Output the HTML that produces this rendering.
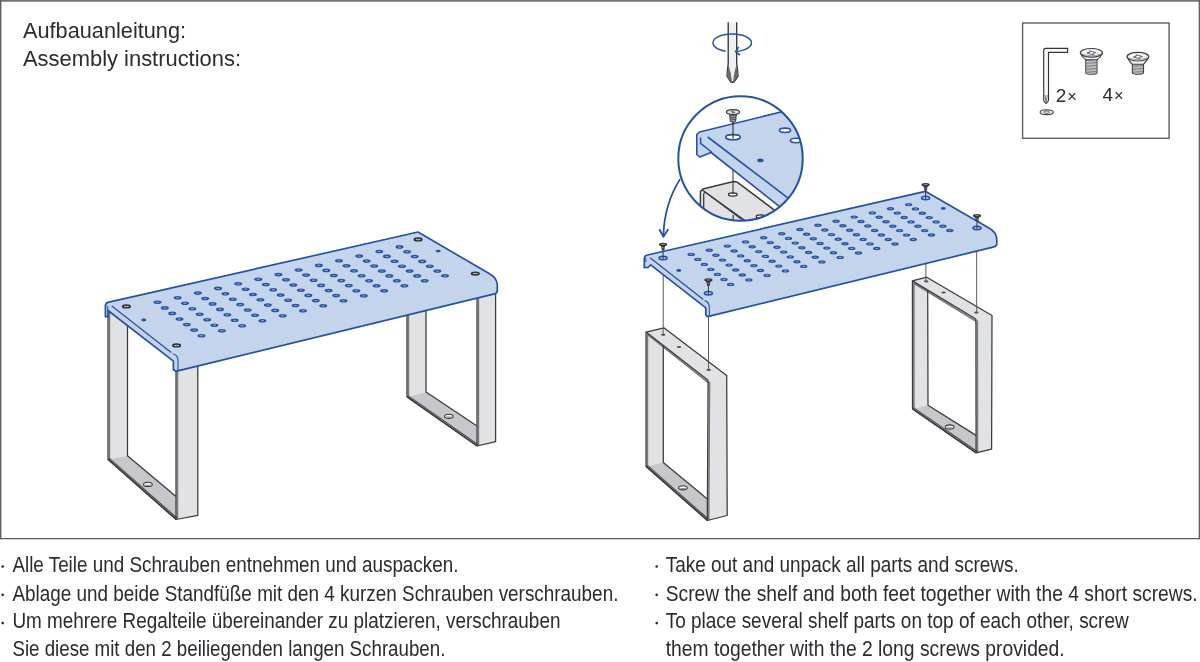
<!DOCTYPE html>
<html><head><meta charset="utf-8"><title>Assembly instructions</title>
<style>html,body{margin:0;padding:0;background:#fff;width:1200px;height:662px;overflow:hidden;position:relative}</style>
</head><body>
<svg width="1200" height="662" viewBox="0 0 1200 662" style="position:absolute;left:0;top:0;will-change:transform">
<rect x="0" y="0" width="1200" height="662" fill="#fff"/><g stroke-width="1.4"><line x1="0" y1="0.85" x2="1200" y2="0.85" stroke="#727278" stroke-width="1.7"/><line x1="0.7" y1="0" x2="0.7" y2="539.3" stroke="#5f5f65"/><line x1="1199.35" y1="0" x2="1199.35" y2="539.3" stroke="#5f5f65" stroke-width="1.3"/><line x1="0" y1="538.6" x2="1200" y2="538.6" stroke="#5f5f65" stroke-width="1.3"/></g>
<polygon points="108.0,305.0 127.5,300.0 127.5,455.7 108.0,459.5" fill="#e1e2e4"/><polygon points="108.0,459.5 127.5,455.7 176.0,496.5 176.0,519.5" fill="#c6c7ca"/><polygon points="176.0,365.0 197.8,360.0 197.8,515.4 176.0,519.5" fill="#e1e2e4"/><line x1="109.45" y1="306.5" x2="109.45" y2="459.0" stroke="#77777c" stroke-width="1.5"/><line x1="177.45" y1="366.5" x2="177.45" y2="518.5" stroke="#77777c" stroke-width="1.5"/><line x1="108.60" y1="458.83" x2="176.60" y2="518.83" stroke="#3a3a3f" stroke-width="2.6"/><line x1="109.40" y1="458.83" x2="176.60" y2="518.83" stroke="#a9a9ae" stroke-width="0.6"/><polyline points="108.0,305.0 108.0,459.5 176.0,519.5 197.8,515.4 197.8,360.0" fill="none" stroke="#3a3a3f" stroke-width="1.25" stroke-linejoin="round"/><polyline points="127.5,300.0 127.5,455.7 176.0,496.5" fill="none" stroke="#3a3a3f" stroke-width="1.25" stroke-linejoin="round"/><line x1="176" y1="365" x2="176" y2="519.5" stroke="#3a3a3f" stroke-width="1.25"/><ellipse cx="147.9" cy="484.4" rx="4.3" ry="2.1" fill="#f4f4f5" stroke="#3a3a3f" stroke-width="1.1"/><path d="M144.6,484.7 Q147.9,487.1 151.20000000000002,484.7" fill="#8a8a90" stroke="none"/><polygon points="407.0,295.0 426.0,290.0 426.0,392.0 407.0,397.0" fill="#e1e2e4"/><polygon points="407.0,397.0 426.0,392.0 477.0,426.0 477.0,446.0" fill="#c6c7ca"/><polygon points="477.0,294.0 495.6,290.0 495.6,441.7 477.0,446.0" fill="#e1e2e4"/><line x1="408.45" y1="296.5" x2="408.45" y2="396.5" stroke="#77777c" stroke-width="1.5"/><line x1="478.45" y1="295.5" x2="478.45" y2="445" stroke="#77777c" stroke-width="1.5"/><line x1="407.52" y1="396.26" x2="477.52" y2="445.26" stroke="#3a3a3f" stroke-width="2.6"/><line x1="408.32" y1="396.26" x2="477.52" y2="445.26" stroke="#a9a9ae" stroke-width="0.6"/><polyline points="407.0,295.0 407.0,397.0 477.0,446.0 495.6,441.7 495.6,290.0" fill="none" stroke="#3a3a3f" stroke-width="1.25" stroke-linejoin="round"/><polyline points="426.0,290.0 426.0,392.0 477.0,426.0" fill="none" stroke="#3a3a3f" stroke-width="1.25" stroke-linejoin="round"/><line x1="477" y1="294" x2="477" y2="446" stroke="#3a3a3f" stroke-width="1.25"/><ellipse cx="448.8" cy="416.3" rx="4.3" ry="2.1" fill="#f4f4f5" stroke="#3a3a3f" stroke-width="1.1"/><path d="M445.5,416.6 Q448.8,419.00000000000006 452.1,416.6" fill="#8a8a90" stroke="none"/><path d="M105.4,316.6 L105.4,306 Q105.4,302.8 108.8,302.2 L418,232 L489.5,273.8 Q497.3,278.3 497.3,285 L497.3,290.8 Q497.3,293.2 494.5,293.8 L175.7,371.4 L173.4,369.5 L173.4,361.1 L108,310.5 L108,316.6 Z" fill="#c4d4ed" stroke="#2552a3" stroke-width="1.7" stroke-linejoin="round"/><line x1="111.8" y1="306" x2="171.2" y2="352.4" stroke="#2552a3" stroke-width="1.3"/><path d="M172.8,353.8 Q177.6,355 178,360 L178,371" fill="none" stroke="#2552a3" stroke-width="1.1"/><line x1="107.8" y1="306" x2="107.8" y2="312" stroke="#2552a3" stroke-width="1"/><g fill="#2552a3"><ellipse cx="157.5" cy="302.3" rx="4.0" ry="1.8"/><ellipse cx="164.8" cy="307.9" rx="4.0" ry="1.8"/><ellipse cx="172.2" cy="313.4" rx="4.0" ry="1.8"/><ellipse cx="179.5" cy="319.0" rx="4.0" ry="1.8"/><ellipse cx="186.8" cy="324.6" rx="4.0" ry="1.8"/><ellipse cx="194.2" cy="330.1" rx="4.0" ry="1.8"/><ellipse cx="201.5" cy="335.7" rx="4.0" ry="1.8"/><ellipse cx="177.7" cy="297.7" rx="4.0" ry="1.8"/><ellipse cx="185.0" cy="303.2" rx="4.0" ry="1.8"/><ellipse cx="192.4" cy="308.7" rx="4.0" ry="1.8"/><ellipse cx="199.7" cy="314.2" rx="4.0" ry="1.8"/><ellipse cx="207.1" cy="319.7" rx="4.0" ry="1.8"/><ellipse cx="214.4" cy="325.2" rx="4.0" ry="1.8"/><ellipse cx="221.8" cy="330.7" rx="4.0" ry="1.8"/><ellipse cx="197.8" cy="293.1" rx="4.0" ry="1.8"/><ellipse cx="205.2" cy="298.5" rx="4.0" ry="1.8"/><ellipse cx="212.6" cy="303.9" rx="4.0" ry="1.8"/><ellipse cx="220.0" cy="309.4" rx="4.0" ry="1.8"/><ellipse cx="227.3" cy="314.8" rx="4.0" ry="1.8"/><ellipse cx="234.7" cy="320.3" rx="4.0" ry="1.8"/><ellipse cx="242.1" cy="325.7" rx="4.0" ry="1.8"/><ellipse cx="218.0" cy="288.4" rx="4.0" ry="1.8"/><ellipse cx="225.4" cy="293.8" rx="4.0" ry="1.8"/><ellipse cx="232.8" cy="299.2" rx="4.0" ry="1.8"/><ellipse cx="240.2" cy="304.6" rx="4.0" ry="1.8"/><ellipse cx="247.6" cy="310.0" rx="4.0" ry="1.8"/><ellipse cx="255.0" cy="315.3" rx="4.0" ry="1.8"/><ellipse cx="262.4" cy="320.7" rx="4.0" ry="1.8"/><ellipse cx="238.2" cy="283.8" rx="4.0" ry="1.8"/><ellipse cx="245.6" cy="289.2" rx="4.0" ry="1.8"/><ellipse cx="253.0" cy="294.5" rx="4.0" ry="1.8"/><ellipse cx="260.4" cy="299.8" rx="4.0" ry="1.8"/><ellipse cx="267.8" cy="305.1" rx="4.0" ry="1.8"/><ellipse cx="275.2" cy="310.4" rx="4.0" ry="1.8"/><ellipse cx="282.7" cy="315.7" rx="4.0" ry="1.8"/><ellipse cx="258.3" cy="279.2" rx="4.0" ry="1.8"/><ellipse cx="265.8" cy="284.5" rx="4.0" ry="1.8"/><ellipse cx="273.2" cy="289.7" rx="4.0" ry="1.8"/><ellipse cx="280.6" cy="295.0" rx="4.0" ry="1.8"/><ellipse cx="288.1" cy="300.2" rx="4.0" ry="1.8"/><ellipse cx="295.5" cy="305.5" rx="4.0" ry="1.8"/><ellipse cx="303.0" cy="310.7" rx="4.0" ry="1.8"/><ellipse cx="278.5" cy="274.6" rx="4.0" ry="1.8"/><ellipse cx="286.0" cy="279.8" rx="4.0" ry="1.8"/><ellipse cx="293.4" cy="285.0" rx="4.0" ry="1.8"/><ellipse cx="300.9" cy="290.2" rx="4.0" ry="1.8"/><ellipse cx="308.3" cy="295.4" rx="4.0" ry="1.8"/><ellipse cx="315.8" cy="300.6" rx="4.0" ry="1.8"/><ellipse cx="323.2" cy="305.8" rx="4.0" ry="1.8"/><ellipse cx="298.7" cy="270.0" rx="4.0" ry="1.8"/><ellipse cx="306.1" cy="275.1" rx="4.0" ry="1.8"/><ellipse cx="313.6" cy="280.2" rx="4.0" ry="1.8"/><ellipse cx="321.1" cy="285.4" rx="4.0" ry="1.8"/><ellipse cx="328.6" cy="290.5" rx="4.0" ry="1.8"/><ellipse cx="336.1" cy="295.6" rx="4.0" ry="1.8"/><ellipse cx="343.5" cy="300.8" rx="4.0" ry="1.8"/><ellipse cx="318.8" cy="265.4" rx="4.0" ry="1.8"/><ellipse cx="326.3" cy="270.4" rx="4.0" ry="1.8"/><ellipse cx="333.8" cy="275.5" rx="4.0" ry="1.8"/><ellipse cx="341.3" cy="280.6" rx="4.0" ry="1.8"/><ellipse cx="348.8" cy="285.6" rx="4.0" ry="1.8"/><ellipse cx="356.3" cy="290.7" rx="4.0" ry="1.8"/><ellipse cx="363.8" cy="295.8" rx="4.0" ry="1.8"/><ellipse cx="339.0" cy="260.8" rx="4.0" ry="1.8"/><ellipse cx="346.5" cy="265.8" rx="4.0" ry="1.8"/><ellipse cx="354.0" cy="270.8" rx="4.0" ry="1.8"/><ellipse cx="361.6" cy="275.8" rx="4.0" ry="1.8"/><ellipse cx="369.1" cy="280.8" rx="4.0" ry="1.8"/><ellipse cx="376.6" cy="285.8" rx="4.0" ry="1.8"/><ellipse cx="384.1" cy="290.8" rx="4.0" ry="1.8"/><ellipse cx="359.2" cy="256.1" rx="4.0" ry="1.8"/><ellipse cx="366.7" cy="261.1" rx="4.0" ry="1.8"/><ellipse cx="374.2" cy="266.0" rx="4.0" ry="1.8"/><ellipse cx="381.8" cy="271.0" rx="4.0" ry="1.8"/><ellipse cx="389.3" cy="275.9" rx="4.0" ry="1.8"/><ellipse cx="396.9" cy="280.8" rx="4.0" ry="1.8"/><ellipse cx="404.4" cy="285.8" rx="4.0" ry="1.8"/><ellipse cx="379.3" cy="251.5" rx="4.0" ry="1.8"/><ellipse cx="386.9" cy="256.4" rx="4.0" ry="1.8"/><ellipse cx="394.5" cy="261.3" rx="4.0" ry="1.8"/><ellipse cx="402.0" cy="266.2" rx="4.0" ry="1.8"/><ellipse cx="409.6" cy="271.0" rx="4.0" ry="1.8"/><ellipse cx="417.1" cy="275.9" rx="4.0" ry="1.8"/><ellipse cx="424.7" cy="280.8" rx="4.0" ry="1.8"/><ellipse cx="399.5" cy="246.9" rx="4.0" ry="1.8"/><ellipse cx="407.1" cy="251.7" rx="4.0" ry="1.8"/><ellipse cx="414.7" cy="256.5" rx="4.0" ry="1.8"/><ellipse cx="422.2" cy="261.4" rx="4.0" ry="1.8"/><ellipse cx="429.8" cy="266.2" rx="4.0" ry="1.8"/><ellipse cx="437.4" cy="271.0" rx="4.0" ry="1.8"/><ellipse cx="445.0" cy="275.8" rx="4.0" ry="1.8"/></g><g fill="#8aa3d3"><ellipse cx="157.5" cy="302.3" rx="1.8" ry="0.6"/><ellipse cx="164.8" cy="307.9" rx="1.8" ry="0.6"/><ellipse cx="172.2" cy="313.4" rx="1.8" ry="0.6"/><ellipse cx="179.5" cy="319.0" rx="1.8" ry="0.6"/><ellipse cx="186.8" cy="324.6" rx="1.8" ry="0.6"/><ellipse cx="194.2" cy="330.1" rx="1.8" ry="0.6"/><ellipse cx="201.5" cy="335.7" rx="1.8" ry="0.6"/><ellipse cx="177.7" cy="297.7" rx="1.8" ry="0.6"/><ellipse cx="185.0" cy="303.2" rx="1.8" ry="0.6"/><ellipse cx="192.4" cy="308.7" rx="1.8" ry="0.6"/><ellipse cx="199.7" cy="314.2" rx="1.8" ry="0.6"/><ellipse cx="207.1" cy="319.7" rx="1.8" ry="0.6"/><ellipse cx="214.4" cy="325.2" rx="1.8" ry="0.6"/><ellipse cx="221.8" cy="330.7" rx="1.8" ry="0.6"/><ellipse cx="197.8" cy="293.1" rx="1.8" ry="0.6"/><ellipse cx="205.2" cy="298.5" rx="1.8" ry="0.6"/><ellipse cx="212.6" cy="303.9" rx="1.8" ry="0.6"/><ellipse cx="220.0" cy="309.4" rx="1.8" ry="0.6"/><ellipse cx="227.3" cy="314.8" rx="1.8" ry="0.6"/><ellipse cx="234.7" cy="320.3" rx="1.8" ry="0.6"/><ellipse cx="242.1" cy="325.7" rx="1.8" ry="0.6"/><ellipse cx="218.0" cy="288.4" rx="1.8" ry="0.6"/><ellipse cx="225.4" cy="293.8" rx="1.8" ry="0.6"/><ellipse cx="232.8" cy="299.2" rx="1.8" ry="0.6"/><ellipse cx="240.2" cy="304.6" rx="1.8" ry="0.6"/><ellipse cx="247.6" cy="310.0" rx="1.8" ry="0.6"/><ellipse cx="255.0" cy="315.3" rx="1.8" ry="0.6"/><ellipse cx="262.4" cy="320.7" rx="1.8" ry="0.6"/><ellipse cx="238.2" cy="283.8" rx="1.8" ry="0.6"/><ellipse cx="245.6" cy="289.2" rx="1.8" ry="0.6"/><ellipse cx="253.0" cy="294.5" rx="1.8" ry="0.6"/><ellipse cx="260.4" cy="299.8" rx="1.8" ry="0.6"/><ellipse cx="267.8" cy="305.1" rx="1.8" ry="0.6"/><ellipse cx="275.2" cy="310.4" rx="1.8" ry="0.6"/><ellipse cx="282.7" cy="315.7" rx="1.8" ry="0.6"/><ellipse cx="258.3" cy="279.2" rx="1.8" ry="0.6"/><ellipse cx="265.8" cy="284.5" rx="1.8" ry="0.6"/><ellipse cx="273.2" cy="289.7" rx="1.8" ry="0.6"/><ellipse cx="280.6" cy="295.0" rx="1.8" ry="0.6"/><ellipse cx="288.1" cy="300.2" rx="1.8" ry="0.6"/><ellipse cx="295.5" cy="305.5" rx="1.8" ry="0.6"/><ellipse cx="303.0" cy="310.7" rx="1.8" ry="0.6"/><ellipse cx="278.5" cy="274.6" rx="1.8" ry="0.6"/><ellipse cx="286.0" cy="279.8" rx="1.8" ry="0.6"/><ellipse cx="293.4" cy="285.0" rx="1.8" ry="0.6"/><ellipse cx="300.9" cy="290.2" rx="1.8" ry="0.6"/><ellipse cx="308.3" cy="295.4" rx="1.8" ry="0.6"/><ellipse cx="315.8" cy="300.6" rx="1.8" ry="0.6"/><ellipse cx="323.2" cy="305.8" rx="1.8" ry="0.6"/><ellipse cx="298.7" cy="270.0" rx="1.8" ry="0.6"/><ellipse cx="306.1" cy="275.1" rx="1.8" ry="0.6"/><ellipse cx="313.6" cy="280.2" rx="1.8" ry="0.6"/><ellipse cx="321.1" cy="285.4" rx="1.8" ry="0.6"/><ellipse cx="328.6" cy="290.5" rx="1.8" ry="0.6"/><ellipse cx="336.1" cy="295.6" rx="1.8" ry="0.6"/><ellipse cx="343.5" cy="300.8" rx="1.8" ry="0.6"/><ellipse cx="318.8" cy="265.4" rx="1.8" ry="0.6"/><ellipse cx="326.3" cy="270.4" rx="1.8" ry="0.6"/><ellipse cx="333.8" cy="275.5" rx="1.8" ry="0.6"/><ellipse cx="341.3" cy="280.6" rx="1.8" ry="0.6"/><ellipse cx="348.8" cy="285.6" rx="1.8" ry="0.6"/><ellipse cx="356.3" cy="290.7" rx="1.8" ry="0.6"/><ellipse cx="363.8" cy="295.8" rx="1.8" ry="0.6"/><ellipse cx="339.0" cy="260.8" rx="1.8" ry="0.6"/><ellipse cx="346.5" cy="265.8" rx="1.8" ry="0.6"/><ellipse cx="354.0" cy="270.8" rx="1.8" ry="0.6"/><ellipse cx="361.6" cy="275.8" rx="1.8" ry="0.6"/><ellipse cx="369.1" cy="280.8" rx="1.8" ry="0.6"/><ellipse cx="376.6" cy="285.8" rx="1.8" ry="0.6"/><ellipse cx="384.1" cy="290.8" rx="1.8" ry="0.6"/><ellipse cx="359.2" cy="256.1" rx="1.8" ry="0.6"/><ellipse cx="366.7" cy="261.1" rx="1.8" ry="0.6"/><ellipse cx="374.2" cy="266.0" rx="1.8" ry="0.6"/><ellipse cx="381.8" cy="271.0" rx="1.8" ry="0.6"/><ellipse cx="389.3" cy="275.9" rx="1.8" ry="0.6"/><ellipse cx="396.9" cy="280.8" rx="1.8" ry="0.6"/><ellipse cx="404.4" cy="285.8" rx="1.8" ry="0.6"/><ellipse cx="379.3" cy="251.5" rx="1.8" ry="0.6"/><ellipse cx="386.9" cy="256.4" rx="1.8" ry="0.6"/><ellipse cx="394.5" cy="261.3" rx="1.8" ry="0.6"/><ellipse cx="402.0" cy="266.2" rx="1.8" ry="0.6"/><ellipse cx="409.6" cy="271.0" rx="1.8" ry="0.6"/><ellipse cx="417.1" cy="275.9" rx="1.8" ry="0.6"/><ellipse cx="424.7" cy="280.8" rx="1.8" ry="0.6"/><ellipse cx="399.5" cy="246.9" rx="1.8" ry="0.6"/><ellipse cx="407.1" cy="251.7" rx="1.8" ry="0.6"/><ellipse cx="414.7" cy="256.5" rx="1.8" ry="0.6"/><ellipse cx="422.2" cy="261.4" rx="1.8" ry="0.6"/><ellipse cx="429.8" cy="266.2" rx="1.8" ry="0.6"/><ellipse cx="437.4" cy="271.0" rx="1.8" ry="0.6"/><ellipse cx="445.0" cy="275.8" rx="1.8" ry="0.6"/></g><ellipse cx="126.4" cy="306.4" rx="4.5" ry="2.2" fill="#2a2a2f"/><ellipse cx="126.4" cy="306.4" rx="2.7" ry="0.75" fill="#c9c9cd"/><ellipse cx="126.4" cy="306.4" rx="0.5" ry="0.7" fill="#55555a"/><ellipse cx="176.6" cy="345.4" rx="4.5" ry="2.2" fill="#2a2a2f"/><ellipse cx="176.6" cy="345.4" rx="2.7" ry="0.75" fill="#c9c9cd"/><ellipse cx="176.6" cy="345.4" rx="0.5" ry="0.7" fill="#55555a"/><ellipse cx="418.1" cy="239.4" rx="4.5" ry="2.2" fill="#2a2a2f"/><ellipse cx="418.1" cy="239.4" rx="2.7" ry="0.75" fill="#c9c9cd"/><ellipse cx="418.1" cy="239.4" rx="0.5" ry="0.7" fill="#55555a"/><ellipse cx="475.3" cy="273.6" rx="4.5" ry="2.2" fill="#2a2a2f"/><ellipse cx="475.3" cy="273.6" rx="2.7" ry="0.75" fill="#c9c9cd"/><ellipse cx="475.3" cy="273.6" rx="0.5" ry="0.7" fill="#55555a"/><ellipse cx="143.8" cy="320" rx="2.5" ry="1.4" fill="#2552a3"/><ellipse cx="438.2" cy="251.1" rx="2.5" ry="1.4" fill="#2552a3"/><polygon points="646.0,332.1 663.3,345.5 663.3,462.4 646.0,466.5" fill="#e1e2e4"/><polygon points="646.0,466.5 663.3,462.4 707.3,499.0 707.3,520.5" fill="#c6c7ca"/><polygon points="708.1,380.3 726.7,375.5 727.2,515.5 707.3,520.5" fill="#e1e2e4"/><polygon points="646.0,332.1 664.2,327.9 726.7,375.5 708.1,380.3" fill="#e1e2e4"/><line x1="647.45" y1="333.6" x2="647.45" y2="466.0" stroke="#77777c" stroke-width="1.5"/><line x1="709.5500000000001" y1="381.8" x2="708.75" y2="519.5" stroke="#77777c" stroke-width="1.5"/><line x1="646.59" y1="465.82" x2="707.89" y2="519.82" stroke="#3a3a3f" stroke-width="2.6"/><line x1="647.39" y1="465.82" x2="707.89" y2="519.82" stroke="#a9a9ae" stroke-width="0.6"/><line x1="647.5" y1="334.40000000000003" x2="708.4" y2="382.6" stroke="#77777c" stroke-width="1.7"/><polygon points="646.0,466.5 646.0,332.1 664.2,327.9 726.7,375.5 727.2,515.5 707.3,520.5" fill="none" stroke="#3a3a3f" stroke-width="1.25" stroke-linejoin="round"/><line x1="646" y1="332.1" x2="708.1" y2="380.3" stroke="#3a3a3f" stroke-width="1.25"/><polyline points="663.3,345.5 663.3,462.4 707.3,499.0" fill="none" stroke="#3a3a3f" stroke-width="1.25" stroke-linejoin="round"/><line x1="708.1" y1="380.3" x2="707.3" y2="520.5" stroke="#3a3a3f" stroke-width="1.25"/><ellipse cx="682.9" cy="487.8" rx="4.3" ry="2.1" fill="#f4f4f5" stroke="#3a3a3f" stroke-width="1.1"/><path d="M679.6,488.1 Q682.9,490.50000000000006 686.1999999999999,488.1" fill="#8a8a90" stroke="none"/><ellipse cx="663.2" cy="334.8" rx="2.3" ry="1.1" fill="#55555a"/><ellipse cx="679" cy="347" rx="2.3" ry="1.1" fill="#55555a"/><ellipse cx="708.6" cy="369.9" rx="2.3" ry="1.1" fill="#55555a"/><polygon points="912.4,280.9 927.7,290.4 928.0,405.3 912.5,409.0" fill="#e1e2e4"/><polygon points="912.5,409.0 928.0,405.3 976.0,435.4 976.1,452.9" fill="#c6c7ca"/><polygon points="975.9,319.0 992.0,315.5 991.6,449.2 976.1,452.9" fill="#e1e2e4"/><polygon points="912.4,280.9 926.7,277.2 992.0,315.5 975.9,319.0" fill="#e1e2e4"/><line x1="913.85" y1="282.4" x2="913.95" y2="408.5" stroke="#77777c" stroke-width="1.5"/><line x1="977.35" y1="320.5" x2="977.5500000000001" y2="451.9" stroke="#77777c" stroke-width="1.5"/><line x1="913.01" y1="408.26" x2="976.61" y2="452.16" stroke="#3a3a3f" stroke-width="2.6"/><line x1="913.81" y1="408.26" x2="976.61" y2="452.16" stroke="#a9a9ae" stroke-width="0.6"/><line x1="913.9" y1="283.2" x2="976.1999999999999" y2="321.3" stroke="#77777c" stroke-width="1.7"/><polygon points="912.5,409.0 912.4,280.9 926.7,277.2 992.0,315.5 991.6,449.2 976.1,452.9" fill="none" stroke="#3a3a3f" stroke-width="1.25" stroke-linejoin="round"/><line x1="912.4" y1="280.9" x2="975.9" y2="319" stroke="#3a3a3f" stroke-width="1.25"/><polyline points="927.7,290.4 928.0,405.3 976.0,435.4" fill="none" stroke="#3a3a3f" stroke-width="1.25" stroke-linejoin="round"/><line x1="975.9" y1="319" x2="976.1" y2="452.9" stroke="#3a3a3f" stroke-width="1.25"/><ellipse cx="949.7" cy="427" rx="4.3" ry="2.1" fill="#f4f4f5" stroke="#3a3a3f" stroke-width="1.1"/><path d="M946.4000000000001,427.3 Q949.7,429.70000000000005 953.0,427.3" fill="#8a8a90" stroke="none"/><ellipse cx="926.2" cy="281.4" rx="2.3" ry="1.1" fill="#55555a"/><ellipse cx="943.6" cy="292.5" rx="2.3" ry="1.1" fill="#55555a"/><ellipse cx="976.4" cy="312.6" rx="2.3" ry="1.1" fill="#55555a"/><line x1="663.2" y1="258" x2="663.2" y2="334.8" stroke="#5a5a60" stroke-width="1"/><line x1="708.5" y1="293" x2="708.5" y2="369.9" stroke="#5a5a60" stroke-width="1"/><line x1="925.9" y1="198" x2="925.9" y2="281.4" stroke="#5a5a60" stroke-width="1"/><line x1="976.7" y1="228" x2="976.7" y2="312.6" stroke="#5a5a60" stroke-width="1"/><path d="M644.3,267.7 L644.3,258.5 Q644.3,255.6 647.3,255 L925.3,191.3 L988.5,227.8 Q996.8,232.6 996.8,239.5 L996.8,243.8 Q996.8,246.2 994,246.9 L707.5,316.7 L705.8,315 L705.8,307.9 L650.7,264.8 L648,267.5 Z" fill="#c4d4ed" stroke="#2552a3" stroke-width="1.7" stroke-linejoin="round"/><line x1="650.1" y1="257.7" x2="703.3" y2="299.5" stroke="#2552a3" stroke-width="1.3"/><path d="M704.6,300.6 Q709,301.8 709.3,306.5 L709.3,316.4" fill="none" stroke="#2552a3" stroke-width="1.1"/><line x1="645.9" y1="258" x2="645.9" y2="262" stroke="#2552a3" stroke-width="1"/><g fill="#2552a3"><ellipse cx="691.2" cy="254.4" rx="3.7" ry="1.7"/><ellipse cx="697.8" cy="259.4" rx="3.7" ry="1.7"/><ellipse cx="704.3" cy="264.4" rx="3.7" ry="1.7"/><ellipse cx="710.9" cy="269.4" rx="3.7" ry="1.7"/><ellipse cx="717.5" cy="274.4" rx="3.7" ry="1.7"/><ellipse cx="724.0" cy="279.4" rx="3.7" ry="1.7"/><ellipse cx="730.6" cy="284.4" rx="3.7" ry="1.7"/><ellipse cx="709.3" cy="250.2" rx="3.7" ry="1.7"/><ellipse cx="715.9" cy="255.2" rx="3.7" ry="1.7"/><ellipse cx="722.5" cy="260.1" rx="3.7" ry="1.7"/><ellipse cx="729.1" cy="265.1" rx="3.7" ry="1.7"/><ellipse cx="735.7" cy="270.0" rx="3.7" ry="1.7"/><ellipse cx="742.3" cy="275.0" rx="3.7" ry="1.7"/><ellipse cx="748.9" cy="279.9" rx="3.7" ry="1.7"/><ellipse cx="727.4" cy="246.1" rx="3.7" ry="1.7"/><ellipse cx="734.1" cy="251.0" rx="3.7" ry="1.7"/><ellipse cx="740.7" cy="255.9" rx="3.7" ry="1.7"/><ellipse cx="747.3" cy="260.8" rx="3.7" ry="1.7"/><ellipse cx="753.9" cy="265.6" rx="3.7" ry="1.7"/><ellipse cx="760.5" cy="270.5" rx="3.7" ry="1.7"/><ellipse cx="767.1" cy="275.4" rx="3.7" ry="1.7"/><ellipse cx="745.6" cy="241.9" rx="3.7" ry="1.7"/><ellipse cx="752.2" cy="246.8" rx="3.7" ry="1.7"/><ellipse cx="758.8" cy="251.6" rx="3.7" ry="1.7"/><ellipse cx="765.5" cy="256.4" rx="3.7" ry="1.7"/><ellipse cx="772.1" cy="261.3" rx="3.7" ry="1.7"/><ellipse cx="778.8" cy="266.1" rx="3.7" ry="1.7"/><ellipse cx="785.4" cy="270.9" rx="3.7" ry="1.7"/><ellipse cx="763.7" cy="237.8" rx="3.7" ry="1.7"/><ellipse cx="770.3" cy="242.6" rx="3.7" ry="1.7"/><ellipse cx="777.0" cy="247.3" rx="3.7" ry="1.7"/><ellipse cx="783.7" cy="252.1" rx="3.7" ry="1.7"/><ellipse cx="790.3" cy="256.9" rx="3.7" ry="1.7"/><ellipse cx="797.0" cy="261.7" rx="3.7" ry="1.7"/><ellipse cx="803.7" cy="266.4" rx="3.7" ry="1.7"/><ellipse cx="781.8" cy="233.7" rx="3.7" ry="1.7"/><ellipse cx="788.5" cy="238.4" rx="3.7" ry="1.7"/><ellipse cx="795.2" cy="243.1" rx="3.7" ry="1.7"/><ellipse cx="801.9" cy="247.8" rx="3.7" ry="1.7"/><ellipse cx="808.6" cy="252.5" rx="3.7" ry="1.7"/><ellipse cx="815.2" cy="257.2" rx="3.7" ry="1.7"/><ellipse cx="821.9" cy="261.9" rx="3.7" ry="1.7"/><ellipse cx="799.9" cy="229.5" rx="3.7" ry="1.7"/><ellipse cx="806.6" cy="234.2" rx="3.7" ry="1.7"/><ellipse cx="813.3" cy="238.8" rx="3.7" ry="1.7"/><ellipse cx="820.1" cy="243.5" rx="3.7" ry="1.7"/><ellipse cx="826.8" cy="248.1" rx="3.7" ry="1.7"/><ellipse cx="833.5" cy="252.8" rx="3.7" ry="1.7"/><ellipse cx="840.2" cy="257.4" rx="3.7" ry="1.7"/><ellipse cx="818.0" cy="225.3" rx="3.7" ry="1.7"/><ellipse cx="824.8" cy="230.0" rx="3.7" ry="1.7"/><ellipse cx="831.5" cy="234.6" rx="3.7" ry="1.7"/><ellipse cx="838.2" cy="239.2" rx="3.7" ry="1.7"/><ellipse cx="845.0" cy="243.8" rx="3.7" ry="1.7"/><ellipse cx="851.7" cy="248.4" rx="3.7" ry="1.7"/><ellipse cx="858.5" cy="253.0" rx="3.7" ry="1.7"/><ellipse cx="836.1" cy="221.2" rx="3.7" ry="1.7"/><ellipse cx="842.9" cy="225.7" rx="3.7" ry="1.7"/><ellipse cx="849.7" cy="230.3" rx="3.7" ry="1.7"/><ellipse cx="856.4" cy="234.8" rx="3.7" ry="1.7"/><ellipse cx="863.2" cy="239.4" rx="3.7" ry="1.7"/><ellipse cx="870.0" cy="243.9" rx="3.7" ry="1.7"/><ellipse cx="876.7" cy="248.5" rx="3.7" ry="1.7"/><ellipse cx="854.2" cy="217.1" rx="3.7" ry="1.7"/><ellipse cx="861.0" cy="221.5" rx="3.7" ry="1.7"/><ellipse cx="867.8" cy="226.0" rx="3.7" ry="1.7"/><ellipse cx="874.6" cy="230.5" rx="3.7" ry="1.7"/><ellipse cx="881.4" cy="235.0" rx="3.7" ry="1.7"/><ellipse cx="888.2" cy="239.5" rx="3.7" ry="1.7"/><ellipse cx="895.0" cy="244.0" rx="3.7" ry="1.7"/><ellipse cx="872.4" cy="212.9" rx="3.7" ry="1.7"/><ellipse cx="879.2" cy="217.3" rx="3.7" ry="1.7"/><ellipse cx="886.0" cy="221.8" rx="3.7" ry="1.7"/><ellipse cx="892.8" cy="226.2" rx="3.7" ry="1.7"/><ellipse cx="899.6" cy="230.6" rx="3.7" ry="1.7"/><ellipse cx="906.5" cy="235.1" rx="3.7" ry="1.7"/><ellipse cx="913.3" cy="239.5" rx="3.7" ry="1.7"/><ellipse cx="890.5" cy="208.8" rx="3.7" ry="1.7"/><ellipse cx="897.3" cy="213.1" rx="3.7" ry="1.7"/><ellipse cx="904.2" cy="217.5" rx="3.7" ry="1.7"/><ellipse cx="911.0" cy="221.9" rx="3.7" ry="1.7"/><ellipse cx="917.9" cy="226.2" rx="3.7" ry="1.7"/><ellipse cx="924.7" cy="230.6" rx="3.7" ry="1.7"/><ellipse cx="931.5" cy="235.0" rx="3.7" ry="1.7"/><ellipse cx="908.6" cy="204.6" rx="3.7" ry="1.7"/><ellipse cx="915.5" cy="208.9" rx="3.7" ry="1.7"/><ellipse cx="922.3" cy="213.2" rx="3.7" ry="1.7"/><ellipse cx="929.2" cy="217.6" rx="3.7" ry="1.7"/><ellipse cx="936.1" cy="221.9" rx="3.7" ry="1.7"/><ellipse cx="942.9" cy="226.2" rx="3.7" ry="1.7"/><ellipse cx="949.8" cy="230.5" rx="3.7" ry="1.7"/></g><g fill="#8aa3d3"><ellipse cx="691.2" cy="254.4" rx="1.6" ry="0.55"/><ellipse cx="697.8" cy="259.4" rx="1.6" ry="0.55"/><ellipse cx="704.3" cy="264.4" rx="1.6" ry="0.55"/><ellipse cx="710.9" cy="269.4" rx="1.6" ry="0.55"/><ellipse cx="717.5" cy="274.4" rx="1.6" ry="0.55"/><ellipse cx="724.0" cy="279.4" rx="1.6" ry="0.55"/><ellipse cx="730.6" cy="284.4" rx="1.6" ry="0.55"/><ellipse cx="709.3" cy="250.2" rx="1.6" ry="0.55"/><ellipse cx="715.9" cy="255.2" rx="1.6" ry="0.55"/><ellipse cx="722.5" cy="260.1" rx="1.6" ry="0.55"/><ellipse cx="729.1" cy="265.1" rx="1.6" ry="0.55"/><ellipse cx="735.7" cy="270.0" rx="1.6" ry="0.55"/><ellipse cx="742.3" cy="275.0" rx="1.6" ry="0.55"/><ellipse cx="748.9" cy="279.9" rx="1.6" ry="0.55"/><ellipse cx="727.4" cy="246.1" rx="1.6" ry="0.55"/><ellipse cx="734.1" cy="251.0" rx="1.6" ry="0.55"/><ellipse cx="740.7" cy="255.9" rx="1.6" ry="0.55"/><ellipse cx="747.3" cy="260.8" rx="1.6" ry="0.55"/><ellipse cx="753.9" cy="265.6" rx="1.6" ry="0.55"/><ellipse cx="760.5" cy="270.5" rx="1.6" ry="0.55"/><ellipse cx="767.1" cy="275.4" rx="1.6" ry="0.55"/><ellipse cx="745.6" cy="241.9" rx="1.6" ry="0.55"/><ellipse cx="752.2" cy="246.8" rx="1.6" ry="0.55"/><ellipse cx="758.8" cy="251.6" rx="1.6" ry="0.55"/><ellipse cx="765.5" cy="256.4" rx="1.6" ry="0.55"/><ellipse cx="772.1" cy="261.3" rx="1.6" ry="0.55"/><ellipse cx="778.8" cy="266.1" rx="1.6" ry="0.55"/><ellipse cx="785.4" cy="270.9" rx="1.6" ry="0.55"/><ellipse cx="763.7" cy="237.8" rx="1.6" ry="0.55"/><ellipse cx="770.3" cy="242.6" rx="1.6" ry="0.55"/><ellipse cx="777.0" cy="247.3" rx="1.6" ry="0.55"/><ellipse cx="783.7" cy="252.1" rx="1.6" ry="0.55"/><ellipse cx="790.3" cy="256.9" rx="1.6" ry="0.55"/><ellipse cx="797.0" cy="261.7" rx="1.6" ry="0.55"/><ellipse cx="803.7" cy="266.4" rx="1.6" ry="0.55"/><ellipse cx="781.8" cy="233.7" rx="1.6" ry="0.55"/><ellipse cx="788.5" cy="238.4" rx="1.6" ry="0.55"/><ellipse cx="795.2" cy="243.1" rx="1.6" ry="0.55"/><ellipse cx="801.9" cy="247.8" rx="1.6" ry="0.55"/><ellipse cx="808.6" cy="252.5" rx="1.6" ry="0.55"/><ellipse cx="815.2" cy="257.2" rx="1.6" ry="0.55"/><ellipse cx="821.9" cy="261.9" rx="1.6" ry="0.55"/><ellipse cx="799.9" cy="229.5" rx="1.6" ry="0.55"/><ellipse cx="806.6" cy="234.2" rx="1.6" ry="0.55"/><ellipse cx="813.3" cy="238.8" rx="1.6" ry="0.55"/><ellipse cx="820.1" cy="243.5" rx="1.6" ry="0.55"/><ellipse cx="826.8" cy="248.1" rx="1.6" ry="0.55"/><ellipse cx="833.5" cy="252.8" rx="1.6" ry="0.55"/><ellipse cx="840.2" cy="257.4" rx="1.6" ry="0.55"/><ellipse cx="818.0" cy="225.3" rx="1.6" ry="0.55"/><ellipse cx="824.8" cy="230.0" rx="1.6" ry="0.55"/><ellipse cx="831.5" cy="234.6" rx="1.6" ry="0.55"/><ellipse cx="838.2" cy="239.2" rx="1.6" ry="0.55"/><ellipse cx="845.0" cy="243.8" rx="1.6" ry="0.55"/><ellipse cx="851.7" cy="248.4" rx="1.6" ry="0.55"/><ellipse cx="858.5" cy="253.0" rx="1.6" ry="0.55"/><ellipse cx="836.1" cy="221.2" rx="1.6" ry="0.55"/><ellipse cx="842.9" cy="225.7" rx="1.6" ry="0.55"/><ellipse cx="849.7" cy="230.3" rx="1.6" ry="0.55"/><ellipse cx="856.4" cy="234.8" rx="1.6" ry="0.55"/><ellipse cx="863.2" cy="239.4" rx="1.6" ry="0.55"/><ellipse cx="870.0" cy="243.9" rx="1.6" ry="0.55"/><ellipse cx="876.7" cy="248.5" rx="1.6" ry="0.55"/><ellipse cx="854.2" cy="217.1" rx="1.6" ry="0.55"/><ellipse cx="861.0" cy="221.5" rx="1.6" ry="0.55"/><ellipse cx="867.8" cy="226.0" rx="1.6" ry="0.55"/><ellipse cx="874.6" cy="230.5" rx="1.6" ry="0.55"/><ellipse cx="881.4" cy="235.0" rx="1.6" ry="0.55"/><ellipse cx="888.2" cy="239.5" rx="1.6" ry="0.55"/><ellipse cx="895.0" cy="244.0" rx="1.6" ry="0.55"/><ellipse cx="872.4" cy="212.9" rx="1.6" ry="0.55"/><ellipse cx="879.2" cy="217.3" rx="1.6" ry="0.55"/><ellipse cx="886.0" cy="221.8" rx="1.6" ry="0.55"/><ellipse cx="892.8" cy="226.2" rx="1.6" ry="0.55"/><ellipse cx="899.6" cy="230.6" rx="1.6" ry="0.55"/><ellipse cx="906.5" cy="235.1" rx="1.6" ry="0.55"/><ellipse cx="913.3" cy="239.5" rx="1.6" ry="0.55"/><ellipse cx="890.5" cy="208.8" rx="1.6" ry="0.55"/><ellipse cx="897.3" cy="213.1" rx="1.6" ry="0.55"/><ellipse cx="904.2" cy="217.5" rx="1.6" ry="0.55"/><ellipse cx="911.0" cy="221.9" rx="1.6" ry="0.55"/><ellipse cx="917.9" cy="226.2" rx="1.6" ry="0.55"/><ellipse cx="924.7" cy="230.6" rx="1.6" ry="0.55"/><ellipse cx="931.5" cy="235.0" rx="1.6" ry="0.55"/><ellipse cx="908.6" cy="204.6" rx="1.6" ry="0.55"/><ellipse cx="915.5" cy="208.9" rx="1.6" ry="0.55"/><ellipse cx="922.3" cy="213.2" rx="1.6" ry="0.55"/><ellipse cx="929.2" cy="217.6" rx="1.6" ry="0.55"/><ellipse cx="936.1" cy="221.9" rx="1.6" ry="0.55"/><ellipse cx="942.9" cy="226.2" rx="1.6" ry="0.55"/><ellipse cx="949.8" cy="230.5" rx="1.6" ry="0.55"/></g><ellipse cx="678.8" cy="270.5" rx="2.5" ry="1.4" fill="#2552a3"/><ellipse cx="943.3" cy="208.4" rx="2.5" ry="1.4" fill="#2552a3"/><ellipse cx="663.1" cy="258.1" rx="4.0" ry="1.7" fill="#b9c9e8" stroke="#2552a3" stroke-width="1.6"/><line x1="663.1" y1="244.5" x2="663.1" y2="258.90000000000003" stroke="#3a3a3f" stroke-width="1"/><path d="M661.0,245.5 L665.2,245.5 L664.4,250.3 L661.8000000000001,250.3 Z" fill="#3a3a3f"/><line x1="661.5" y1="247.7" x2="664.7" y2="247.7" stroke="#9a9aa0" stroke-width="0.6"/><ellipse cx="663.1" cy="244.5" rx="4.1" ry="1.75" fill="#2e2e33"/><ellipse cx="663.1" cy="244.4" rx="2.2" ry="0.6" fill="#8d8d93"/><ellipse cx="708.4" cy="293.2" rx="4.0" ry="1.7" fill="#b9c9e8" stroke="#2552a3" stroke-width="1.6"/><line x1="708.4" y1="279.9" x2="708.4" y2="294.0" stroke="#3a3a3f" stroke-width="1"/><path d="M706.3,280.9 L710.5,280.9 L709.6999999999999,285.7 L707.1,285.7 Z" fill="#3a3a3f"/><line x1="706.8" y1="283.09999999999997" x2="710.0" y2="283.09999999999997" stroke="#9a9aa0" stroke-width="0.6"/><ellipse cx="708.4" cy="279.9" rx="4.1" ry="1.75" fill="#2e2e33"/><ellipse cx="708.4" cy="279.79999999999995" rx="2.2" ry="0.6" fill="#8d8d93"/><ellipse cx="925.6" cy="197.9" rx="4.0" ry="1.7" fill="#b9c9e8" stroke="#2552a3" stroke-width="1.6"/><line x1="925.6" y1="184.8" x2="925.6" y2="198.70000000000002" stroke="#3a3a3f" stroke-width="1"/><path d="M923.5,185.8 L927.7,185.8 L926.9,190.60000000000002 L924.3000000000001,190.60000000000002 Z" fill="#3a3a3f"/><line x1="924.0" y1="188.0" x2="927.2" y2="188.0" stroke="#9a9aa0" stroke-width="0.6"/><ellipse cx="925.6" cy="184.8" rx="4.1" ry="1.75" fill="#2e2e33"/><ellipse cx="925.6" cy="184.70000000000002" rx="2.2" ry="0.6" fill="#8d8d93"/><ellipse cx="977" cy="228.1" rx="4.0" ry="1.7" fill="#b9c9e8" stroke="#2552a3" stroke-width="1.6"/><line x1="977" y1="215.8" x2="977" y2="228.9" stroke="#3a3a3f" stroke-width="1"/><path d="M974.9,216.8 L979.1,216.8 L978.3,221.60000000000002 L975.7,221.60000000000002 Z" fill="#3a3a3f"/><line x1="975.4" y1="219.0" x2="978.6" y2="219.0" stroke="#9a9aa0" stroke-width="0.6"/><ellipse cx="977" cy="215.8" rx="4.1" ry="1.75" fill="#2e2e33"/><ellipse cx="977" cy="215.70000000000002" rx="2.2" ry="0.6" fill="#8d8d93"/><defs><clipPath id="cc"><circle cx="740.5" cy="158.5" r="62.2"/></clipPath></defs><circle cx="740.5" cy="158.5" r="62.2" fill="#fff"/><g clip-path="url(#cc)"><polygon points="700.4,240.0 700.4,191.5 702.8,189.1 733.7,181.4 737.5,182.3 830.0,252.0 830.0,260.0" fill="#e1e2e4" stroke="#3a3a3f" stroke-width="1.5" stroke-linejoin="round"/><polyline points="703.7,240.0 703.7,194.0 705.0,192.0 760.0,233.0" fill="none" stroke="#3a3a3f" stroke-width="1.3" stroke-linejoin="round"/><line x1="702.2" y1="190" x2="760" y2="231" stroke="#3a3a3f" stroke-width="1.1"/><line x1="733.2" y1="214.9" x2="733.2" y2="240" stroke="#3a3a3f" stroke-width="1.2"/><ellipse cx="732.8" cy="194.5" rx="4.4" ry="1.6" fill="#f0f0f2" stroke="#222226" stroke-width="1.2"/><ellipse cx="760.4" cy="216.5" rx="4.2" ry="1.6" fill="#f0f0f2" stroke="#222226" stroke-width="1.2"/><line x1="733" y1="118" x2="733" y2="194" stroke="#333338" stroke-width="1"/><polygon points="696.8,134.5 699.5,132.0 840.0,97.6 840.0,254.4 711.1,152.5 699.8,157.0 696.8,154.5" fill="#c4d4ed" stroke="#2552a3" stroke-width="1.6" stroke-linejoin="round"/><polyline points="700.6,137.4 700.6,143.4 711.5,152.0" fill="none" stroke="#2552a3" stroke-width="1.5" stroke-linejoin="round"/><line x1="707.7" y1="137" x2="810" y2="214.7" stroke="#2552a3" stroke-width="1.6"/><ellipse cx="733" cy="137.2" rx="7.3" ry="2.6" fill="#fff" stroke="#2552a3" stroke-width="1.6"/><ellipse cx="785" cy="130.3" rx="5.6" ry="2.2" fill="#fff" stroke="#2552a3" stroke-width="1.6"/><ellipse cx="796" cy="140.5" rx="5.6" ry="2.2" fill="#fff" stroke="#2552a3" stroke-width="1.6"/><ellipse cx="760.4" cy="160.4" rx="3.2" ry="1.8" fill="#2552a3"/><line x1="733" y1="118" x2="733" y2="138.8" stroke="#2f2f34" stroke-width="1.1"/><path d="M729.6,114 L736.4,114 L735.6,121.5 Q733,123 730.4,121.5 Z" fill="#9a9a9f" stroke="#3a3a3f" stroke-width="1"/><line x1="730.2" y1="116" x2="735.8" y2="115.2" stroke="#3a3a3f" stroke-width="0.7"/><line x1="730.2" y1="118" x2="735.8" y2="117.2" stroke="#3a3a3f" stroke-width="0.7"/><line x1="730.2" y1="120" x2="735.8" y2="119.2" stroke="#3a3a3f" stroke-width="0.7"/><ellipse cx="733" cy="112.1" rx="6.6" ry="2.4" fill="#e4e4e6" stroke="#3a3a3f" stroke-width="1.2"/><path d="M731,111.6 L735,112.6 M733.3,110.8 L732.7,113.4" stroke="#3a3a3f" stroke-width="0.8"/></g><circle cx="740.5" cy="158.5" r="62.2" fill="none" stroke="#2552a3" stroke-width="2"/><path d="M680,179.1 C672,192 664,210 663.4,236" fill="none" stroke="#2552a3" stroke-width="1.8"/><path d="M659.3,229.3 L663.4,236.8 L668.3,229.3" fill="none" stroke="#2552a3" stroke-width="1.8" stroke-linejoin="round"/><path d="M728.2,22.2 L728.2,64 Q727.3,70 727,76.2 L730.6,81.6 Q732.5,82.9 734.4,81.6 L738,76.2 Q737.7,70 736.7,64 L736.7,22.2" fill="#f0f0f1" stroke="#2f2f34" stroke-width="1.3" stroke-linejoin="round"/><path d="M728.4,64.5 Q731,72 732,81.5 L730.6,81.6 L727.2,76.2 Q727.4,70 728.4,64.5 Z M736.5,64.5 Q734,72 733,81.5 L734.4,81.6 L737.8,76.2 Q737.6,70 736.5,64.5 Z" fill="#6a6a70"/><path d="M725.6,51.26 A19.3,8.9 0 1,1 735.7,51.65" fill="none" stroke="#2552a3" stroke-width="1.45"/><path d="M738.7,47 L735.5,51.6 L739.9,55.1" fill="none" stroke="#2552a3" stroke-width="1.6" stroke-linejoin="round"/><rect x="1022.6" y="23" width="146.5" height="115.3" fill="#fff" stroke="#5e5e63" stroke-width="1.4"/><path d="M1043.7,100 L1043.7,50.5 Q1043.7,48.4 1045.8,48.4 L1067.6,48.4 L1067.6,52.3 L1048.5,52.3 L1048.5,100 Q1048.2,102.3 1046.1,103.6 Q1044,102.3 1043.7,100 Z" fill="#fafafa" stroke="#333338" stroke-width="1.15" stroke-linejoin="round"/><path d="M1045,95 L1046.1,102 L1047.3,95" fill="none" stroke="#55555a" stroke-width="0.8"/><ellipse cx="1046.7" cy="112.2" rx="6.6" ry="2.4" fill="#e6e6e8" stroke="#3f3f44" stroke-width="1.1"/><ellipse cx="1046.7" cy="112.2" rx="3" ry="1.1" fill="none" stroke="#55555a" stroke-width="0.8"/><path d="M1085.8000000000002,59.1 L1085.8000000000002,72.8 Q1085.8000000000002,74.3 1091.4,74.3 Q1097.0,74.3 1097.0,72.8 L1097.0,59.1 Z" fill="#f6f6f7" stroke="#3f3f44" stroke-width="1.1"/><line x1="1086.3000000000002" y1="60.6" x2="1096.5" y2="61.0" stroke="#55555b" stroke-width="0.75"/><line x1="1086.3000000000002" y1="62.1" x2="1096.5" y2="62.5" stroke="#55555b" stroke-width="0.75"/><line x1="1086.3000000000002" y1="63.6" x2="1096.5" y2="64.0" stroke="#55555b" stroke-width="0.75"/><line x1="1086.3000000000002" y1="65.1" x2="1096.5" y2="65.5" stroke="#55555b" stroke-width="0.75"/><line x1="1086.3000000000002" y1="66.6" x2="1096.5" y2="67.0" stroke="#55555b" stroke-width="0.75"/><line x1="1086.3000000000002" y1="68.1" x2="1096.5" y2="68.5" stroke="#55555b" stroke-width="0.75"/><line x1="1086.3000000000002" y1="69.6" x2="1096.5" y2="70.0" stroke="#55555b" stroke-width="0.75"/><line x1="1086.3000000000002" y1="71.1" x2="1096.5" y2="71.5" stroke="#55555b" stroke-width="0.75"/><line x1="1086.3000000000002" y1="72.6" x2="1096.5" y2="73.0" stroke="#55555b" stroke-width="0.75"/><path d="M1080.4,52.8 Q1081.9,57.3 1085.8000000000002,59.7 L1097.0,59.7 Q1100.9,57.3 1102.4,52.8 Z" fill="#f6f6f7" stroke="#3f3f44" stroke-width="1.1" stroke-linejoin="round"/><ellipse cx="1091.4" cy="52.8" rx="11.0" ry="4.3" fill="#f8f8f9" stroke="#3f3f44" stroke-width="1.2"/><path d="M1081.9,54.0 Q1091.4,57.4 1100.9,54.0" fill="none" stroke="#77777c" stroke-width="0.7"/><path d="M1086.9,53.0 L1089.9,52.199999999999996 L1089.4,50.8 L1092.4,51.599999999999994 L1095.9,52.599999999999994 L1092.9,53.4 L1093.4,54.8 L1090.4,54.0 Z" fill="#fff" stroke="#55555a" stroke-width="0.9" stroke-linejoin="round"/><path d="M1132.3000000000002,63.6 L1132.3000000000002,72.8 Q1132.3000000000002,74.3 1137.9,74.3 Q1143.5,74.3 1143.5,72.8 L1143.5,63.6 Z" fill="#f6f6f7" stroke="#3f3f44" stroke-width="1.1"/><line x1="1132.8000000000002" y1="65.1" x2="1143.0" y2="65.5" stroke="#55555b" stroke-width="0.75"/><line x1="1132.8000000000002" y1="66.6" x2="1143.0" y2="67.0" stroke="#55555b" stroke-width="0.75"/><line x1="1132.8000000000002" y1="68.1" x2="1143.0" y2="68.5" stroke="#55555b" stroke-width="0.75"/><line x1="1132.8000000000002" y1="69.6" x2="1143.0" y2="70.0" stroke="#55555b" stroke-width="0.75"/><line x1="1132.8000000000002" y1="71.1" x2="1143.0" y2="71.5" stroke="#55555b" stroke-width="0.75"/><line x1="1132.8000000000002" y1="72.6" x2="1143.0" y2="73.0" stroke="#55555b" stroke-width="0.75"/><path d="M1127.1000000000001,56.7 Q1128.6000000000001,61.2 1132.3000000000002,64.2 L1143.5,64.2 Q1147.2,61.2 1148.7,56.7 Z" fill="#f6f6f7" stroke="#3f3f44" stroke-width="1.1" stroke-linejoin="round"/><ellipse cx="1137.9" cy="56.7" rx="10.8" ry="4.3" fill="#f8f8f9" stroke="#3f3f44" stroke-width="1.2"/><path d="M1128.6000000000001,57.900000000000006 Q1137.9,61.300000000000004 1147.2,57.900000000000006" fill="none" stroke="#77777c" stroke-width="0.7"/><path d="M1133.4,56.900000000000006 L1136.4,56.1 L1135.9,54.7 L1138.9,55.5 L1142.4,56.5 L1139.4,57.300000000000004 L1139.9,58.7 L1136.9,57.900000000000006 Z" fill="#fff" stroke="#55555a" stroke-width="0.9" stroke-linejoin="round"/><g font-family="Liberation Sans, sans-serif" fill="#2b2b31" font-size="19"><text x="1055.8" y="101.6">2<tspan font-size="16.5" dx="0.8">×</tspan></text><text x="1102.6" y="101.3">4<tspan font-size="16.5" dx="0.8">×</tspan></text></g>
<g font-family="Liberation Sans, sans-serif" fill="#2b2b31">
<text x="23" y="38.3" font-size="22" textLength="163" lengthAdjust="spacingAndGlyphs">Aufbauanleitung:</text>
<text x="23" y="65.5" font-size="22" textLength="218" lengthAdjust="spacingAndGlyphs">Assembly instructions:</text>
<g font-size="21.5">
<g fill="#2b2b31"><circle cx="2.7" cy="566.5" r="1.35"/><circle cx="2.7" cy="594.8" r="1.35"/><circle cx="2.7" cy="623.1" r="1.35"/><circle cx="656.7" cy="566.5" r="1.35"/><circle cx="656.7" cy="594.8" r="1.35"/><circle cx="656.7" cy="623.1" r="1.35"/></g>
<text x="12.4" y="572.4" textLength="446" lengthAdjust="spacingAndGlyphs">Alle Teile und Schrauben entnehmen und auspacken.</text>
<text x="12.4" y="600.7" textLength="606" lengthAdjust="spacingAndGlyphs">Ablage und beide Standfüße mit den 4 kurzen Schrauben verschrauben.</text>
<text x="12.4" y="628" textLength="548" lengthAdjust="spacingAndGlyphs">Um mehrere Regalteile übereinander zu platzieren, verschrauben</text>
<text x="12.4" y="656.3" textLength="433" lengthAdjust="spacingAndGlyphs">Sie diese mit den 2 beiliegenden langen Schrauben.</text>
<text x="665.7" y="572.4" textLength="353" lengthAdjust="spacingAndGlyphs">Take out and unpack all parts and screws.</text>
<text x="665.7" y="600.7" textLength="532" lengthAdjust="spacingAndGlyphs">Screw the shelf and both feet together with the 4 short screws.</text>
<text x="665.7" y="628" textLength="463" lengthAdjust="spacingAndGlyphs">To place several shelf parts on top of each other, screw</text>
<text x="665.7" y="656.3" textLength="399" lengthAdjust="spacingAndGlyphs">them together with the 2 long screws provided.</text>
</g>
</g>
</svg>
</body></html>
